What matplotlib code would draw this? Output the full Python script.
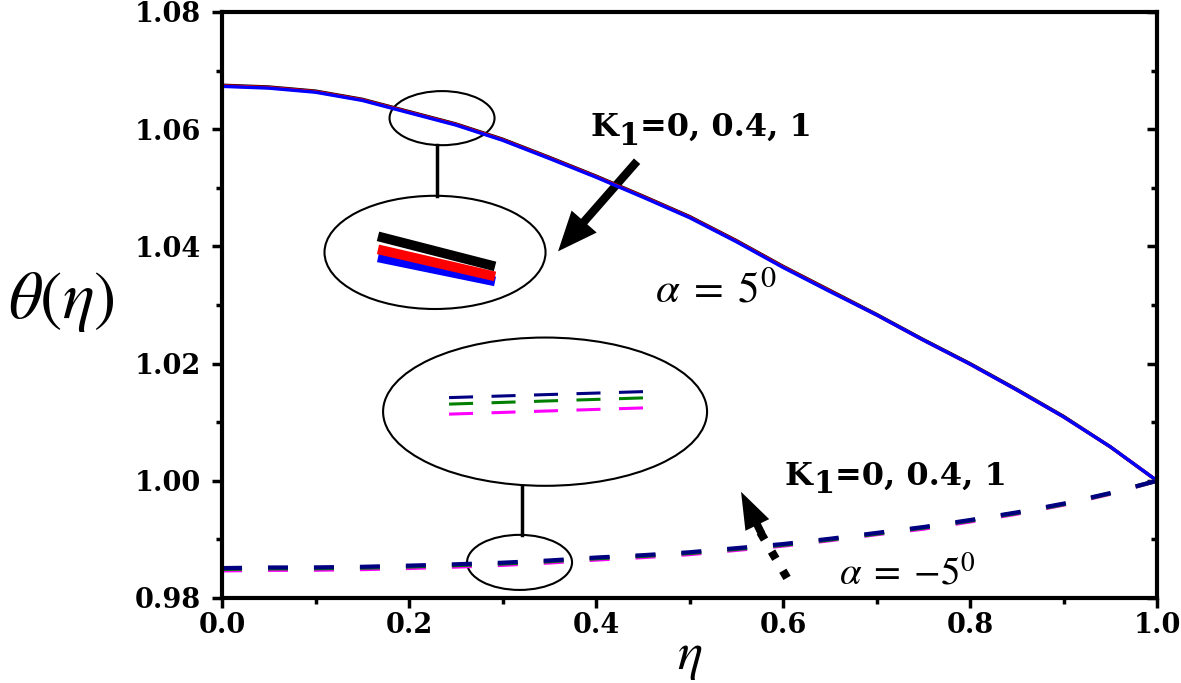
import numpy as np
import matplotlib
matplotlib.use("Agg")
import matplotlib.pyplot as plt
from matplotlib.patches import Ellipse, FancyArrowPatch
from matplotlib.ticker import MultipleLocator, FormatStrFormatter

plt.rcParams['font.family'] = ['DejaVu Serif']
plt.rcParams['mathtext.fontset'] = 'stix'
plt.rcParams['lines.scale_dashes'] = False

# ---------------- data ----------------
eta = [0.00, 0.05, 0.10, 0.15, 0.20, 0.25, 0.30, 0.35, 0.40, 0.45, 0.50,
       0.55, 0.60, 0.65, 0.70, 0.75, 0.80, 0.85, 0.90, 0.95, 1.00]

# alpha = 5 deg (solid), K1 = 0, 0.4, 1
theta_p5_K0 = [1.0675, 1.0672, 1.0665, 1.0651, 1.0630, 1.0609, 1.0583, 1.0552, 1.0520, 1.0486, 1.0451,
               1.0410, 1.0366, 1.0325, 1.0284, 1.0241, 1.0200, 1.0156, 1.0110, 1.0058, 1.0000]
theta_p5_K04 = [1.0674, 1.0671, 1.0664, 1.0650, 1.0629, 1.0608, 1.0582, 1.0551, 1.0519, 1.0485, 1.0450,
                1.0409, 1.0365, 1.0324, 1.0283, 1.0240, 1.0199, 1.0155, 1.0109, 1.0058, 1.0000]
theta_p5_K1 = [1.0673, 1.0670, 1.0663, 1.0649, 1.0628, 1.0607, 1.0581, 1.0550, 1.0518, 1.0484, 1.0449,
               1.0408, 1.0364, 1.0323, 1.0283, 1.0240, 1.0199, 1.0155, 1.0109, 1.0058, 1.0000]

# alpha = -5 deg (dashed), K1 = 0, 0.4, 1
theta_m5_K0 = [0.98470, 0.98480, 0.98482, 0.98492, 0.98512, 0.98535, 0.98565, 0.98605, 0.98655, 0.98697, 0.98748,
               0.98820, 0.98893, 0.98985, 0.99088, 0.99182, 0.99305, 0.99438, 0.99592, 0.99778, 1.00000]
theta_m5_K04 = [0.98495, 0.98505, 0.98507, 0.98517, 0.98537, 0.98560, 0.98588, 0.98627, 0.98677, 0.98717, 0.98767,
                0.98837, 0.98907, 0.98997, 0.99098, 0.99200, 0.99320, 0.99450, 0.99600, 0.99785, 1.00000]
theta_m5_K1 = [0.98510, 0.98520, 0.98522, 0.98532, 0.98552, 0.98575, 0.98602, 0.98640, 0.98690, 0.98730, 0.98780,
               0.98850, 0.98920, 0.99010, 0.99110, 0.99210, 0.99330, 0.99460, 0.99610, 0.99790, 1.00000]

xticks = [0.0, 0.2, 0.4, 0.6, 0.8, 1.0]
yticks = [0.98, 1.00, 1.02, 1.04, 1.06, 1.08]

# ---------------- figure ----------------
fig = plt.figure(figsize=(11.81, 6.83), dpi=100)
ax = fig.add_axes([0.188, 0.1245, 0.7917, 0.858])

solid_colors = ['black', 'red', 'blue']
for ys, c in zip([theta_p5_K0, theta_p5_K04, theta_p5_K1], solid_colors):
    ax.plot(eta, ys, color=c, lw=2.4, solid_capstyle='butt')

dash_colors = ['#ff00ff', '#008000', '#000080']
for ys, c in zip([theta_m5_K0, theta_m5_K04, theta_m5_K1], dash_colors):
    ax.plot(eta, ys, color=c, lw=3.0, linestyle=(0, (14.4, 18.7)), dash_capstyle='butt')

ax.set_xlim(0, 1.0)
ax.set_ylim(0.98, 1.08)
ax.set_xticks(xticks)
ax.set_yticks(yticks)
ax.xaxis.set_minor_locator(MultipleLocator(0.1))
ax.yaxis.set_minor_locator(MultipleLocator(0.01))
ax.xaxis.set_major_formatter(FormatStrFormatter('%.1f'))
ax.yaxis.set_major_formatter(FormatStrFormatter('%.2f'))

for s in ax.spines.values():
    s.set_linewidth(3.0)
ax.tick_params(axis='both', which='major', direction='out', length=7, width=2.5,
               labelsize=19.5, pad=3)
ax.tick_params(axis='both', which='minor', direction='out', length=4, width=2.5)
ax.tick_params(axis='y', which='major', pad=8)
ax.tick_params(axis='y', which='both', right=True, labelright=False)
for t in ax.get_xticklabels() + ax.get_yticklabels():
    t.set_fontweight('bold')
# right-side ticks point inward
for tl in ax.yaxis.get_major_ticks() + ax.yaxis.get_minor_ticks():
    tl.tick2line.set_marker(matplotlib.lines.TICKLEFT)

ax.set_xlabel(r'$\eta$', fontsize=38, labelpad=-6)
ax.set_ylabel(r'$\theta(\eta)$', fontsize=48, rotation=0)
ax.yaxis.set_label_coords(-0.172, 0.45)

# ---------------- annotations ----------------
# upper magnifier
ax.add_patch(Ellipse((0.2353, 1.06188), 0.1123, 0.00923, fill=False, lw=1.5, ec='black'))
ax.plot([0.230, 0.230], [1.05727, 1.04855], color='black', lw=2.5)
ax.add_patch(Ellipse((0.2278, 1.03897), 0.2364, 0.01932, fill=False, lw=1.5, ec='black'))
ax.plot([0.1668, 0.2920], [1.03812, 1.03402], color='blue', lw=7, solid_capstyle='butt')
ax.plot([0.1668, 0.2920], [1.03949, 1.03487], color='red', lw=7, solid_capstyle='butt')
ax.plot([0.1668, 0.2920], [1.04171, 1.03658], color='black', lw=7, solid_capstyle='butt')

# lower magnifier
ax.add_patch(Ellipse((0.3455, 1.01179), 0.3465, 0.0253, fill=False, lw=1.5, ec='black'))
ax.plot([0.3209, 0.3209], [0.99915, 0.99077], color='black', lw=2.5)
ax.add_patch(Ellipse((0.3182, 0.98607), 0.1123, 0.0094, fill=False, lw=1.5, ec='black'))
ax.plot([0.2428, 0.4503], [1.01137, 1.01243], color='#ff00ff', lw=2.2,
        linestyle=(0, (17.3, 13.3)), dash_capstyle='butt')
ax.plot([0.2428, 0.4503], [1.01308, 1.01414], color='#008000', lw=2.2,
        linestyle=(0, (17.3, 13.3)), dash_capstyle='butt')
ax.plot([0.2428, 0.4503], [1.01419, 1.01521], color='#000080', lw=2.2,
        linestyle=(0, (17.3, 13.3)), dash_capstyle='butt')

# solid arrow (K1 increasing, alpha = 5)
ax.add_patch(FancyArrowPatch((0.4439, 1.05453), (0.3594, 1.03915),
                             arrowstyle='simple,head_length=0.95,head_width=0.8,tail_width=0.2',
                             mutation_scale=30, color='black', lw=0, shrinkA=0, shrinkB=0))
# dotted arrow (K1 increasing, alpha = -5)
ax.plot([0.6043, 0.5754], [0.98342, 0.99128], color='black', lw=6,
        linestyle=(0, (6, 10)), dash_capstyle='butt')
ax.add_patch(FancyArrowPatch((0.5770, 0.99100), (0.5551, 0.99812),
                             arrowstyle='simple,head_length=0.95,head_width=0.68,tail_width=0.2',
                             mutation_scale=28, color='black', lw=0, shrinkA=0, shrinkB=0))


def k_label(x, y):
    """'K' + large lowered subscript '1' + '=0, 0.4, 1' as real text pieces."""
    fig.canvas.draw()
    r = fig.canvas.get_renderer()
    t1 = ax.text(x, y, 'K', fontsize=23, fontweight='bold', ha='left', va='baseline')
    w1 = t1.get_window_extent(r).width * 72 / fig.dpi
    t2 = ax.annotate('1', (x, y), xytext=(w1 + 0.5, -6), textcoords='offset points',
                     fontsize=22, fontweight='bold', ha='left', va='baseline')
    w2 = t2.get_window_extent(r).width * 72 / fig.dpi
    ax.annotate('=0, 0.4, 1', (x, y), xytext=(w1 + w2 + 1.0, 0), textcoords='offset points',
                fontsize=23, fontweight='bold', ha='left', va='baseline')


k_label(0.3936, 1.0588)
k_label(0.6021, 0.99932)
ax.text(0.4631, 1.03043, r'$\alpha\;=\;5^0$', fontsize=31, ha='left', va='baseline')
ax.text(0.6599, 0.98239, r'$\alpha\;=\;{-}5^0$', fontsize=28, ha='left', va='baseline')

fig.savefig('out.png', dpi=100)
